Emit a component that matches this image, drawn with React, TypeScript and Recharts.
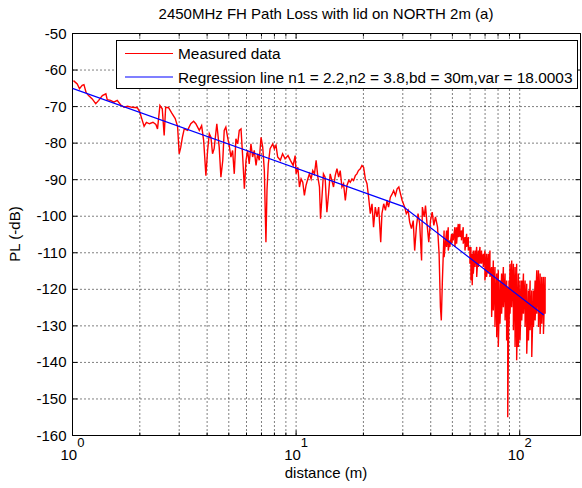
import { LineChart, Line, XAxis, YAxis, CartesianGrid, Legend, ReferenceArea } from "recharts";

// measured path loss, distance (m) -> PL (-dB), traced point by point up to ~45 m
const nearDist = [
  1.01, 1.05, 1.075, 1.105, 1.125, 1.15, 1.18, 1.225, 1.27, 1.31, 1.36, 1.41, 1.43, 1.48, 1.53, 1.585,
  1.64, 1.7, 1.76, 1.85, 1.95, 2.0, 2.04, 2.09, 2.14, 2.21, 2.29, 2.36, 2.4, 2.46, 2.52, 2.57, 2.61,
  2.69, 2.78, 2.88, 2.95, 3.0, 3.05, 3.1, 3.16, 3.27, 3.38, 3.48, 3.56, 3.69, 3.78, 3.86, 3.95, 4.02,
  4.09, 4.16, 4.23, 4.3, 4.42, 4.53, 4.61, 4.7, 4.77, 4.85, 4.94, 5.02, 5.11, 5.2, 5.29, 5.38, 5.48,
  5.57, 5.67, 5.77, 5.87, 5.97, 6.07, 6.17, 6.28, 6.39, 6.5, 6.62, 6.73, 6.84, 6.97, 7.09, 7.21, 7.33,
  7.41, 7.51, 7.65, 7.86, 7.99, 8.13, 8.27, 8.5, 8.7, 8.93, 9.2, 9.43, 9.7, 9.9, 10.0, 10.18, 10.35,
  10.53, 10.71, 10.89, 11.07, 11.28, 11.47, 11.67, 11.87, 12.08, 12.29, 12.51, 12.72, 12.86, 13.05,
  13.25, 13.48, 13.73, 13.97, 14.2, 14.45, 14.7, 14.96, 15.23, 15.5, 15.75, 16.03, 16.3, 16.6, 16.88,
  17.2, 17.47, 17.78, 18.07, 18.4, 18.7, 19.0, 19.37, 19.7, 20.04, 20.4, 20.75, 21.1, 21.47, 21.85,
  22.2, 22.6, 23.0, 23.4, 23.9, 24.2, 24.65, 25.1, 25.5, 25.9, 26.4, 26.9, 27.3, 27.8, 28.3, 28.8,
  29.3, 29.8, 30.6, 31.1, 31.7, 32.2, 32.8, 33.4, 33.9, 34.5, 35.1, 35.7, 36.4, 36.7, 37.4, 37.9,
  38.5, 39.2, 39.9, 40.6, 41.3, 42.0, 42.9, 43.6, 44.2, 44.6, 45.1,
];
const nearPL = [
  -62.9, -63.8, -65.1, -64.2, -64.0, -66.1, -67.0, -67.9, -69.2, -68.3, -67.0, -66.5, -68.1, -68.3, -68.8, -68.3,
  -69.5, -70.2, -69.9, -70.2, -70.3, -71.5, -73.3, -75.4, -74.3, -74.7, -74.3, -74.9, -76.1, -69.7, -70.6, -77.9, -70.2,
  -70.3, -71.8, -73.3, -75.4, -82.9, -81.1, -78.4, -76.1, -76.5, -74.7, -74.0, -74.7, -76.5, -75.2, -79.3, -88.9, -82.0,
  -77.4, -78.4, -82.9, -81.5, -74.7, -81.1, -89.3, -84.7, -76.5, -75.6, -78.4, -80.6, -83.8, -82.0, -88.4, -78.8, -80.2,
  -76.5, -76.1, -83.8, -92.5, -84.7, -82.0, -85.7, -80.2, -83.8, -82.0, -86.1, -82.9, -84.7, -78.4, -81.1, -87.5, -107.1,
  -92.9, -85.7, -81.5, -80.2, -81.5, -80.6, -83.8, -84.7, -82.9, -84.3, -83.4, -84.7, -86.1, -83.4, -88.4, -86.6, -92.0,
  -89.8, -90.7, -94.3, -91.6, -89.8, -88.4, -89.8, -87.5, -88.4, -84.7, -89.3, -92.0, -100.7, -94.8,
  -88.4, -89.3, -98.9, -93.9, -88.4, -90.2, -92.0, -88.9, -87.0, -89.3, -87.5, -92.0, -91.1, -95.7, -91.6,
  -90.2, -90.7, -89.8, -90.2, -88.9, -88.4, -87.5, -87.0, -86.1, -86.6, -89.8, -91.1, -94.8, -99.3, -96.6,
  -103.0, -97.5, -100.2, -97.5, -107.1, -99.3, -96.6, -98.4, -95.7, -97.5, -94.8, -93.9, -93.0, -94.3, -92.5, -92.0,
  -93.9, -95.7, -97.5, -99.3, -98.4, -101.6, -103.4, -101.2, -109.4, -103.0, -99.3, -102.1, -112.1, -97.5, -100.2, -97.1,
  -102.1, -107.1, -101.2, -98.9, -102.5, -100.2, -103.0, -110.3, -124.9, -128.5, -117.6,
];

// beyond ~45 m the trace is a dense band: upper and lower edge per step
const farDist = [
  45.9, 47.1, 47.9, 48.7, 49.6, 50.4, 51.3, 52.2, 53.1, 54.0, 54.9, 55.9, 56.9, 57.9, 58.9, 59.9,
  60.5, 61.3, 62.0, 63.1, 64.2, 65.3, 66.4, 67.5, 68.7, 69.9, 71.1, 72.4, 73.6, 74.9, 76.2, 77.5,
  78.9, 80.2, 81.6, 83.0, 84.5, 86.0, 87.4, 88.4, 89.6, 90.5, 92.1, 93.7, 95.3, 96.9, 98.6, 100.3,
  102.1, 103.9, 105.7, 107.5, 109.4, 111.3, 113.2, 115.2, 117.2, 119.2, 121.3, 123.4, 125.5, 127.7, 129.9,
];
const farTop = [
  -103.9, -103.9, -103.0, -106.6, -104.8, -104.8, -103.0, -103.0, -102.1, -102.1, -103.9, -103.0, -105.7, -104.8, -105.7, -108.4,
  -108.4, -110.3, -109.4, -109.4, -108.4, -109.4, -108.4, -109.4, -110.3, -109.4, -110.3, -110.3, -109.4, -113.9, -112.1, -113.9,
  -115.7, -114.8, -117.6, -115.7, -113.9, -115.7, -117.6, -119.4, -117.6, -113.0, -112.1, -113.0, -113.9, -113.0, -115.7, -117.6,
  -117.6, -115.7, -117.6, -118.5, -120.3, -117.6, -120.3, -120.3, -117.6, -114.8, -114.8, -115.7, -116.6, -116.6, -116.6,
];
const farBottom = [
  -111.2, -108.4, -109.4, -108.4, -107.5, -106.6, -108.4, -107.5, -105.7, -105.7, -106.6, -107.5, -109.4, -108.4, -109.4, -113.0,
  -117.6, -118.9, -115.7, -113.9, -116.6, -113.9, -113.0, -113.0, -113.9, -117.6, -116.6, -115.7, -116.6, -127.6, -125.8, -130.3,
  -133.1, -135.8, -129.4, -126.7, -124.9, -128.5, -134.0, -155.0, -130.3, -126.7, -124.9, -131.2, -135.8, -139.4, -135.8, -134.0,
  -128.5, -126.7, -130.3, -137.6, -134.0, -131.2, -138.5, -130.3, -128.5, -126.7, -130.3, -132.2, -129.4, -132.2, -126.7,
];

// two-slope regression line (breakpoint at 30 m)
const regDist = [1, 30, 128];
const regPL = [-65, -97.3, -127];

const xTicks = [1, 2, 3, 4, 5, 6, 7, 8, 9, 10, 20, 30, 40, 50, 60, 70, 80, 90, 100];
const yTicks = [-160, -150, -140, -130, -120, -110, -100, -90, -80, -70, -60, -50];

const measured = [
  ...nearDist.map((d, i) => ({ d, pl: nearPL[i] })),
  ...farDist.flatMap((d, i) => [
    { d, pl: farTop[i] },
    { d, pl: farBottom[i] },
  ]),
];
const regression = regDist.map((d, i) => ({ d, pl: regPL[i] }));

const RED = "#ff0000";
const BLUE = "#0000ff";
const FONT = "'Liberation Sans', Arial, sans-serif";
const W = 582;
const H = 488;
const PLOT = { left: 72.5, top: 33.5, right: 580.5, bottom: 435.5 };

function XTick({ x, payload }: any) {
  const v = payload.value;
  const major = v === 1 || v === 10 || v === 100;
  const len = major ? 5 : 3;
  return (
    <g>
      <line x1={x} x2={x} y1={PLOT.bottom} y2={PLOT.bottom - len} stroke="#000" />
      <line x1={x} x2={x} y1={PLOT.top} y2={PLOT.top + len} stroke="#000" />
      {major && (
        <text x={x} y={460} textAnchor="middle" fontSize={15} fontFamily={FONT} fill="#000">
          <tspan>10</tspan>
          <tspan dy={-13} fontSize={13}>
            {Math.round(Math.log10(v))}
          </tspan>
        </text>
      )}
    </g>
  );
}

function YTick({ y, payload }: any) {
  return (
    <g>
      <line x1={PLOT.left} x2={PLOT.left + 5} y1={y} y2={y} stroke="#000" />
      <line x1={PLOT.right - 5} x2={PLOT.right} y1={y} y2={y} stroke="#000" />
      <text x={PLOT.left - 6} y={y} dy={5} textAnchor="end" fontSize={15} fontFamily={FONT} fill="#000">
        {payload.value}
      </text>
    </g>
  );
}

function LegendBox({ payload }: any) {
  const items = payload ?? [];
  return (
    <svg width={462} height={49} style={{ display: "block", background: "#fff" }}>
      <rect x={0.5} y={0.5} width={461} height={48} fill="#fff" stroke="#000" />
      {items.map((item: any, i: number) => {
        const cy = 13.5 + i * 23.5;
        return (
          <g key={item.value}>
            <line x1={9} x2={57} y1={cy} y2={cy} stroke={i === 0 ? RED : BLUE} strokeWidth={1.2} />
            <text x={62} y={cy + 5.5} fontSize={15.4} fontFamily={FONT} fill="#000">
              {item.value}
            </text>
          </g>
        );
      })}
    </svg>
  );
}

export default function App() {
  return (
    <div style={{ width: W, height: H, background: "#fff" }}>
      <style>{"body{margin:0}"}</style>
      <LineChart
        width={W}
        height={H}
        margin={{ top: 33.5, right: 1.5, left: 32.5, bottom: 22.5 }}
        style={{ background: "#fff" }}
      >
        <text x={326} y={19} textAnchor="middle" fontSize={15} fontFamily={FONT} fill="#000">
          2450MHz FH Path Loss with lid on NORTH 2m (a)
        </text>
        <CartesianGrid stroke="#000" strokeDasharray="1 3" />
        <XAxis
          type="number"
          dataKey="d"
          scale="log"
          domain={[1, 187]}
          allowDataOverflow
          ticks={xTicks}
          interval={0}
          tick={<XTick />}
          tickLine={false}
          axisLine={false}
          tickSize={0}
          tickMargin={0}
          height={30}
          label={{
            content: () => (
              <text x={326} y={478} textAnchor="middle" fontSize={15} fontFamily={FONT} fill="#000">
                distance (m)
              </text>
            ),
          }}
        />
        <YAxis
          type="number"
          dataKey="pl"
          domain={[-160, -50]}
          allowDataOverflow
          ticks={yTicks}
          interval={0}
          tick={<YTick />}
          tickLine={false}
          axisLine={false}
          tickSize={0}
          tickMargin={0}
          width={40}
          label={{
            content: () => (
              <text
                x={20}
                y={234}
                transform="rotate(-90 20 234)"
                textAnchor="middle"
                fontSize={15}
                fontFamily={FONT}
                fill="#000"
              >
                PL (-dB)
              </text>
            ),
          }}
        />
        <ReferenceArea x1={1} x2={187} y1={-160} y2={-50} fill="none" stroke="#000" strokeWidth={1} />
        <Line
          data={measured}
          dataKey="pl"
          name="Measured data"
          type="linear"
          stroke={RED}
          strokeWidth={1.4}
          dot={false}
          isAnimationActive={false}
        />
        <Line
          data={regression}
          dataKey="pl"
          name="Regression line n1 = 2.2,n2 = 3.8,bd = 30m,var = 18.0003"
          type="linear"
          stroke={BLUE}
          strokeWidth={1.2}
          dot={false}
          isAnimationActive={false}
        />
        <Legend
          layout="vertical"
          align="center"
          verticalAlign="middle"
          content={<LegendBox />}
          wrapperStyle={{ left: 116, top: 40, width: 462, height: 49 }}
        />
      </LineChart>
    </div>
  );
}
